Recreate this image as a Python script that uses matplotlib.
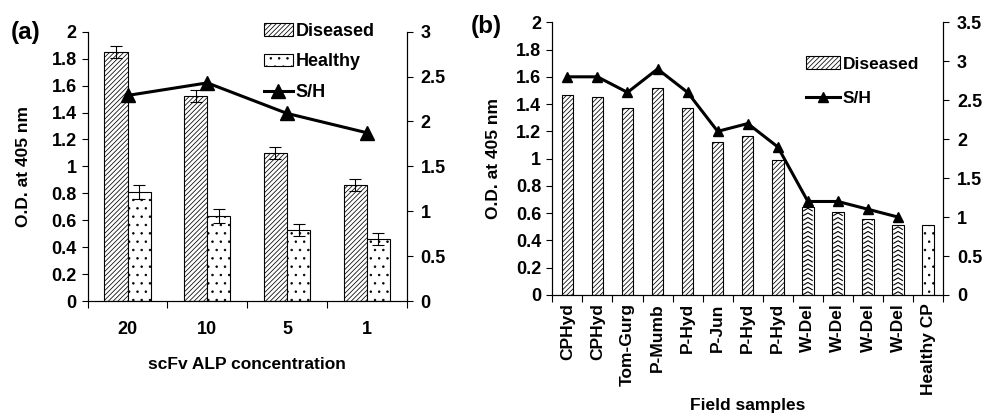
import numpy as np
import matplotlib
matplotlib.use("Agg")
import matplotlib.pyplot as plt
from matplotlib.ticker import FormatStrFormatter, FixedLocator
from matplotlib.patches import Patch
from matplotlib.lines import Line2D

plt.rcParams['font.family'] = ['Liberation Sans', 'DejaVu Sans']
plt.rcParams['font.weight'] = 'bold'
plt.rcParams['axes.labelweight'] = 'bold'
plt.rcParams['hatch.linewidth'] = 0.55
plt.rcParams['hatch.color'] = 'black'

# panel (a) values
conc = ['20', '10', '5', '1']
diseased_a = [1.85, 1.525, 1.10, 0.86]
diseased_err = [0.045, 0.045, 0.045, 0.045]
healthy_a = [0.81, 0.63, 0.53, 0.46]
healthy_err = [0.05, 0.05, 0.045, 0.045]
sh_a = [2.29, 2.43, 2.09, 1.875]

# panel (b) values
samples = ['CPHyd', 'CPHyd', 'Tom-Gurg', 'P-Mumb', 'P-Hyd', 'P-Jun', 'P-Hyd',
           'P-Hyd', 'W-Del', 'W-Del', 'W-Del', 'W-Del', 'Healthy CP']
od_b = [1.47, 1.45, 1.37, 1.515, 1.37, 1.12, 1.165, 0.99, 0.645, 0.61, 0.555, 0.51, 0.51]
sh_b = [2.8, 2.8, 2.6, 2.9, 2.6, 2.1, 2.2, 1.9, 1.2, 1.2, 1.1, 1.0]

DIAG = '///////'


def chevrons(ax, bar, step=0.034):
    # stacked "^" marks for the W-Del bars (no such hatch in mpl)
    x0, w, h = bar.get_x(), bar.get_width(), bar.get_height()
    y = 0.005
    while y < h:
        xs = [x0 + 0.12 * w, x0 + 0.5 * w, x0 + 0.88 * w]
        ys = [y, y + step * 0.55, y]
        ln, = ax.plot(xs, ys, color='black', lw=0.8, solid_joinstyle='miter')
        ln.set_clip_path(bar)
        y += step


def style_axes(ax, ax2, ncat):
    ax.spines['top'].set_visible(False)
    ax2.spines['top'].set_visible(False)
    ax.set_xlim(-0.5, ncat - 0.5)
    ax.xaxis.set_minor_locator(FixedLocator(np.arange(-0.5, ncat, 1.0)))
    ax.tick_params(axis='x', which='major', length=0)
    ax.tick_params(axis='x', which='minor', length=5, direction='out', width=0.8)
    ax.tick_params(axis='y', length=4, direction='out', width=0.8, labelsize=13, pad=4)
    ax2.tick_params(axis='y', length=4, direction='out', width=0.8, labelsize=13, pad=6)
    ax.yaxis.set_major_formatter(FormatStrFormatter('%g'))
    ax2.yaxis.set_major_formatter(FormatStrFormatter('%g'))
    for a in (ax, ax2):
        for s in a.spines.values():
            s.set_linewidth(0.8)


fig = plt.figure(figsize=(9.87, 4.17), dpi=100)

# ---------- (a) ----------
ax = fig.add_axes([0.0889, 0.278, 0.323, 0.646])
ax2 = ax.twinx()
xa = np.arange(len(conc))
bw = 0.29
ekw = dict(ecolor='black', elinewidth=0.8, capsize=4, capthick=0.8)
ax.bar(xa - bw / 2, diseased_a, bw, yerr=diseased_err, color='white', edgecolor='black',
       linewidth=0.8, hatch=DIAG, error_kw=ekw)
ax.bar(xa + bw / 2, healthy_a, bw, yerr=healthy_err, color='white', edgecolor='black',
       linewidth=0.8, hatch='..', error_kw=ekw)
ax2.plot(xa, sh_a, color='black', lw=2.2, marker='^', markersize=9.5)
ax.set_ylim(0, 2)
ax.set_yticks(np.arange(0, 2.01, 0.2))
ax2.set_ylim(0, 3)
ax2.set_yticks(np.arange(0, 3.01, 0.5))
ax.set_xticks(xa)
ax.set_xticklabels(conc, fontsize=13)
ax.tick_params(axis='x', which='major', pad=14)
style_axes(ax, ax2, len(conc))
ax.set_ylabel('O.D. at 405 nm', fontsize=12.5, labelpad=15)
ax.set_xlabel('scFv ALP concentration', fontsize=12.5, labelpad=14)
ax2.legend([Patch(facecolor='white', edgecolor='black', hatch=DIAG, lw=0.8),
            Patch(facecolor='white', edgecolor='black', hatch='..', lw=0.8),
            Line2D([], [], color='black', lw=2.2, marker='^', markersize=9.5)],
           ['Diseased', 'Healthy', 'S/H'], loc='upper left', bbox_to_anchor=(0.53, 1.06),
           frameon=False, fontsize=13, handlelength=1.6, handletextpad=0.15, labelspacing=0.75,
           borderaxespad=0)
fig.text(0.011, 1 - 33 / 417, '(a)', fontsize=17.5, fontweight='bold', va='center')

# ---------- (b) ----------
bx = fig.add_axes([0.5596, 0.2926, 0.396, 0.654])
bx2 = bx.twinx()
xb = np.arange(len(samples))
hatches = [DIAG] * 8 + [None] * 4 + ['..']
bars = bx.bar(xb, od_b, 0.38, color='white', edgecolor='black', linewidth=0.8)
for bar, h in zip(bars, hatches):
    if h:
        bar.set_hatch(h)
for bar in list(bars)[8:12]:
    chevrons(bx, bar)
bx2.plot(xb[:len(sh_b)], sh_b, color='black', lw=2.2, marker='^', markersize=7.5)
bx.set_ylim(0, 2)
bx.set_yticks(np.arange(0, 2.01, 0.2))
bx2.set_ylim(0, 3.5)
bx2.set_yticks(np.arange(0, 3.51, 0.5))
bx.set_xticks(xb)
bx.set_xticklabels(samples, rotation=90, fontsize=12.5)
bx.tick_params(axis='x', which='major', pad=6)
style_axes(bx, bx2, len(samples))
bx.set_ylabel('O.D. at 405 nm', fontsize=12.5, labelpad=11)
bx.set_xlabel('Field samples', fontsize=12.5, labelpad=2)
bx2.legend([Patch(facecolor='white', edgecolor='black', hatch=DIAG, lw=0.8),
            Line2D([], [], color='black', lw=2.2, marker='^', markersize=7.5)],
           ['Diseased', 'S/H'], loc='upper left', bbox_to_anchor=(0.63, 0.9),
           frameon=False, fontsize=12.5, handlelength=2.0, handletextpad=0.15, labelspacing=1.1,
           borderaxespad=0)
fig.text(0.477, 1 - 26 / 417, '(b)', fontsize=17.5, fontweight='bold', va='center')

fig.savefig('out.png', dpi=100)
